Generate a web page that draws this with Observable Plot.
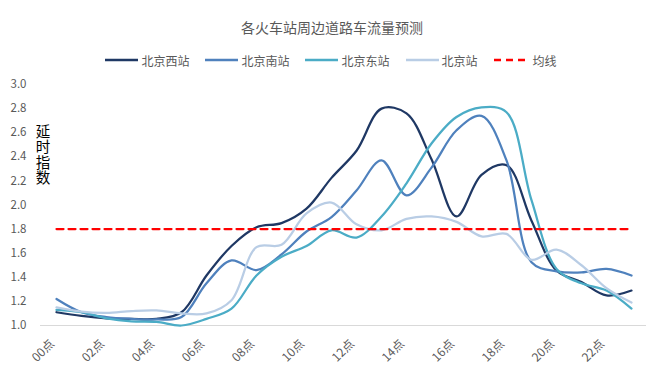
<!DOCTYPE html>
<html><head><meta charset="utf-8">
<script src="https://cdn.jsdelivr.net/npm/d3@7"></script>
<script src="https://cdn.jsdelivr.net/npm/@observablehq/plot@0.6"></script>
<style>
html,body{margin:0;padding:0;background:#fff;}
#wrap{width:652px;height:376px;overflow:hidden;font-family:"Noto Sans CJK SC","Microsoft YaHei",sans-serif;}
#title{height:46px;box-sizing:border-box;padding-top:17px;padding-left:12px;text-align:center;font-size:14px;line-height:20px;color:#595959;}
#legend{height:28px;display:flex;justify-content:center;align-items:center;padding-left:10px;font-size:12px;color:#595959;}
.item{display:flex;align-items:center;margin:0 8px;}
.item svg{margin-right:3px;}
</style>
</head><body>
<div id="wrap">
<div id="title">各火车站周边道路车流量预测</div>
<div id="legend"></div>
<div id="chart"></div>
</div>
<script>
const hours = ["00点","01点","02点","03点","04点","05点","06点","07点","08点","09点","10点","11点","12点","13点","14点","15点","16点","17点","18点","19点","20点","21点","22点","23点"];
const xTickLabels = ["00点","02点","04点","06点","08点","10点","12点","14点","16点","18点","20点","22点"];
const yTicks = [1.0,1.2,1.4,1.6,1.8,2.0,2.2,2.4,2.6,2.8,3.0];
const seriesNames = ["北京西站","北京南站","北京东站","北京站","均线"];
const westValues  = [1.11,1.08,1.06,1.055,1.055,1.11,1.415,1.66,1.815,1.85,1.97,2.225,2.45,2.80,2.76,2.38,1.905,2.25,2.33,1.87,1.456,1.36,1.25,1.29];
const southValues = [1.22,1.11,1.07,1.055,1.05,1.07,1.35,1.54,1.46,1.59,1.78,1.90,2.12,2.37,2.08,2.31,2.62,2.74,2.37,1.525,1.45,1.44,1.47,1.415];
const eastValues  = [1.13,1.11,1.06,1.035,1.03,1.0,1.055,1.14,1.415,1.57,1.66,1.79,1.73,1.905,2.18,2.51,2.73,2.81,2.77,2.04,1.47,1.35,1.29,1.14];
const mainValues  = [1.15,1.115,1.105,1.12,1.125,1.10,1.10,1.21,1.65,1.67,1.93,2.02,1.84,1.79,1.885,1.905,1.86,1.74,1.76,1.545,1.63,1.50,1.31,1.19];
const avgValues   = [1.8,1.8,1.8,1.8,1.8,1.8,1.8,1.8,1.8,1.8,1.8,1.8,1.8,1.8,1.8,1.8,1.8,1.8,1.8,1.8,1.8,1.8,1.8,1.8];
const colors = ["#1F3864","#4F81BD","#4BACC6","#B9CDE5","#FF0000"];
const yAxisTitle = "延时指数";

const stationValues = [westValues, southValues, eastValues, mainValues];
const stationData = stationValues.flatMap((vals, s) => hours.map((h, i) => ({hour: h, value: vals[i], series: seriesNames[s]})));
const avgData = hours.map((h, i) => ({hour: h, value: avgValues[i], series: seriesNames[4]}));

// legend
const legend = document.getElementById("legend");
seriesNames.forEach((name, i) => {
  const dashed = i === 4;
  const w = dashed ? 36 : 33;
  const item = document.createElement("div");
  item.className = "item";
  item.innerHTML = `<svg width="${w}" height="10"><line x1="0" x2="${w}" y1="5" y2="5" stroke="${colors[i]}" stroke-width="2.5" ${dashed ? 'stroke-dasharray="7,5"' : ''}/></svg><span>${name}</span>`;
  legend.appendChild(item);
});

const chart = Plot.plot({
  width: 652,
  height: 302,
  marginTop: 10,
  marginBottom: 51,
  marginLeft: 40,
  marginRight: 6,
  style: {fontFamily: '"Noto Sans CJK SC","Microsoft YaHei",sans-serif', color: "#595959", background: "#fff"},
  x: {type: "point", domain: hours, padding: 0.5, axis: null},
  y: {domain: [1, 3]},
  color: {domain: seriesNames, range: colors},
  marks: [
    Plot.ruleY([1], {stroke: "#D9D9D9", strokeWidth: 1}),
    Plot.axisY(yTicks, {tickSize: 0, tickPadding: 14, tickFormat: d => d.toFixed(1), fontSize: 11.5, label: null}),
    Plot.text(xTickLabels, {x: d => d, frameAnchor: "bottom", dy: 19, dx: -1.5, rotate: -45, textAnchor: "end", fontSize: 12, fill: "#595959"}),
    Plot.line(stationData, {x: "hour", y: "value", z: "series", stroke: "series", strokeWidth: 2.25, curve: "catmull-rom"}),
    Plot.line(avgData, {x: "hour", y: "value", stroke: "series", strokeWidth: 2.25, strokeDasharray: "7,5"}),
    Plot.text([yAxisTitle], {frameAnchor: "top-left", dx: 2.5, dy: 29, fontSize: 14.5, textAnchor: "start", fill: "#000"})
  ]
});
d3.select(chart).selectAll("text")
  .filter(function() { return this.textContent === yAxisTitle; })
  .attr("dy", null)
  .attr("writing-mode", "vertical-rl")
  .style("writing-mode", "vertical-rl")
  .style("letter-spacing", "1px");
document.getElementById("chart").appendChild(chart);
</script>
</body></html>
